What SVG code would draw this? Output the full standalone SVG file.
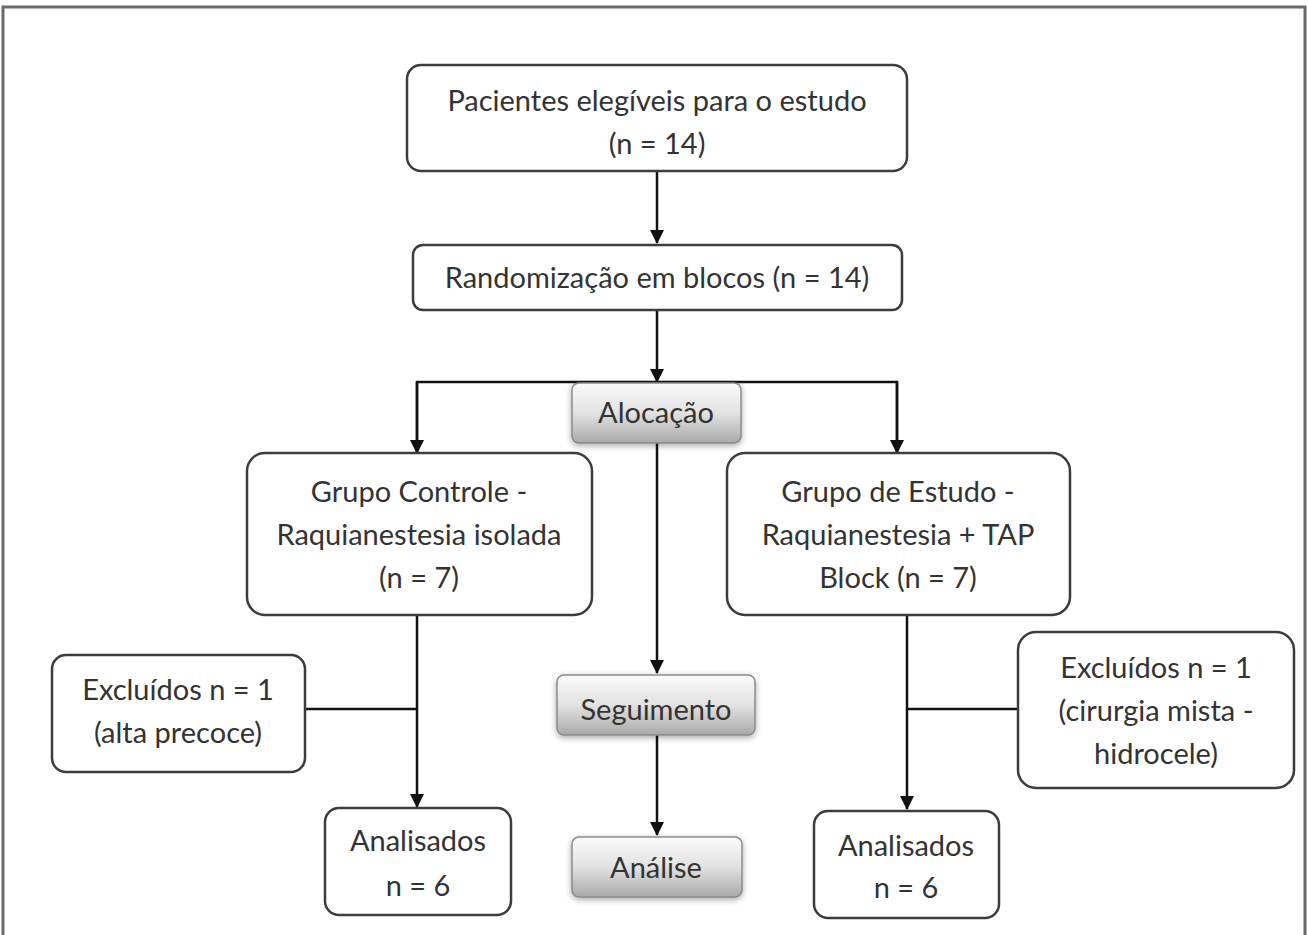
<svg xmlns="http://www.w3.org/2000/svg" width="1308" height="935" viewBox="0 0 1308 935">
<style>
.box{fill:#fff;stroke:#3c3c3c;stroke-width:2.5}
.gbox{fill:url(#gr);stroke:#8a8a8a;stroke-width:1.5;filter:url(#sh)}
.t{font-family:Lato,"Open Sans",sans-serif;font-size:29px;fill:#333;text-anchor:middle}
.c{fill:none;stroke:#111;stroke-width:2.5}
</style>
<defs>
<linearGradient id="gr" x1="0" y1="0" x2="0" y2="1">
<stop offset="0" stop-color="#fafafa"/>
<stop offset="0.5" stop-color="#e2e2e2"/>
<stop offset="1" stop-color="#a9a9a9"/>
</linearGradient>
<filter id="sh" x="-20%" y="-30%" width="140%" height="160%">
<feGaussianBlur in="SourceAlpha" stdDeviation="3"/>
<feOffset dx="0" dy="2"/>
<feComponentTransfer><feFuncA type="linear" slope="0.35"/></feComponentTransfer>
<feMerge><feMergeNode/><feMergeNode in="SourceGraphic"/></feMerge>
</filter>
<marker id="ar" markerWidth="14" markerHeight="14" viewBox="0 0 14 14" refX="13" refY="7" orient="auto" markerUnits="userSpaceOnUse">
<path d="M0,0 L14,7 L0,14 Z" fill="#111"/>
</marker>
</defs>
<rect width="1308" height="935" fill="#fff"/>
<path d="M3,935 V7 H1305 V935" fill="none" stroke="#6a6a6a" stroke-width="3"/>

<g id="connectors">
<line class="c" x1="657" y1="171" x2="657" y2="243" marker-end="url(#ar)"/>
<line class="c" x1="657" y1="310" x2="657" y2="382" marker-end="url(#ar)"/>
<path class="c" d="M417,452 V382 H897 V452"/>
<line class="c" x1="417" y1="382" x2="417" y2="453" marker-end="url(#ar)"/>
<line class="c" x1="897" y1="382" x2="897" y2="453" marker-end="url(#ar)"/>
<line class="c" x1="657" y1="443" x2="657" y2="673" marker-end="url(#ar)"/>
<line class="c" x1="657" y1="735" x2="657" y2="835" marker-end="url(#ar)"/>
<line class="c" x1="417" y1="615" x2="417" y2="807" marker-end="url(#ar)"/>
<line class="c" x1="305" y1="709" x2="417" y2="709"/>
<line class="c" x1="907" y1="615" x2="907" y2="809" marker-end="url(#ar)"/>
<line class="c" x1="907" y1="709" x2="1018" y2="709"/>
</g>

<g id="n1"><rect class="box" x="407" y="65" width="500" height="106" rx="14"/>
<text class="t" x="657" y="111">Pacientes elegíveis para o estudo</text>
<text class="t" x="657" y="154">(n = 14)</text></g>

<g id="n2"><rect class="box" x="413" y="245" width="489" height="65" rx="10"/>
<text class="t" x="657" y="288">Randomização em blocos (n = 14)</text></g>

<g id="alocacao"><rect class="gbox" x="572" y="383" width="169" height="60" rx="7"/>
<text class="t" x="656" y="423">Alocação</text></g>

<g id="controle"><rect class="box" x="247" y="453" width="345" height="162" rx="18"/>
<text class="t" x="419" y="502">Grupo Controle -</text>
<text class="t" x="419" y="545">Raquianestesia isolada</text>
<text class="t" x="419" y="588">(n = 7)</text></g>

<g id="estudo"><rect class="box" x="727" y="453" width="343" height="162" rx="18"/>
<text class="t" x="898" y="502">Grupo de Estudo -</text>
<text class="t" x="898" y="545">Raquianestesia + TAP</text>
<text class="t" x="898" y="588">Block (n = 7)</text></g>

<g id="excl1"><rect class="box" x="52" y="655" width="253" height="117" rx="14"/>
<text class="t" x="178" y="700">Excluídos n = 1</text>
<text class="t" x="178" y="743">(alta precoce)</text></g>

<g id="seguimento"><rect class="gbox" x="557" y="675" width="198" height="60" rx="7"/>
<text class="t" x="656" y="720">Seguimento</text></g>

<g id="excl2"><rect class="box" x="1018" y="632" width="276" height="156" rx="18"/>
<text class="t" x="1156" y="678">Excluídos n = 1</text>
<text class="t" x="1156" y="721">(cirurgia mista -</text>
<text class="t" x="1156" y="764">hidrocele)</text></g>

<g id="anal1"><rect class="box" x="325" y="808" width="186" height="107" rx="14"/>
<text class="t" x="418" y="851">Analisados</text>
<text class="t" x="418" y="896">n = 6</text></g>

<g id="analise"><rect class="gbox" x="572" y="837" width="170" height="60" rx="7"/>
<text class="t" x="656" y="878">Análise</text></g>

<g id="anal2"><rect class="box" x="814" y="811" width="185" height="107" rx="14"/>
<text class="t" x="906" y="856">Analisados</text>
<text class="t" x="906" y="898">n = 6</text></g>
</svg>
